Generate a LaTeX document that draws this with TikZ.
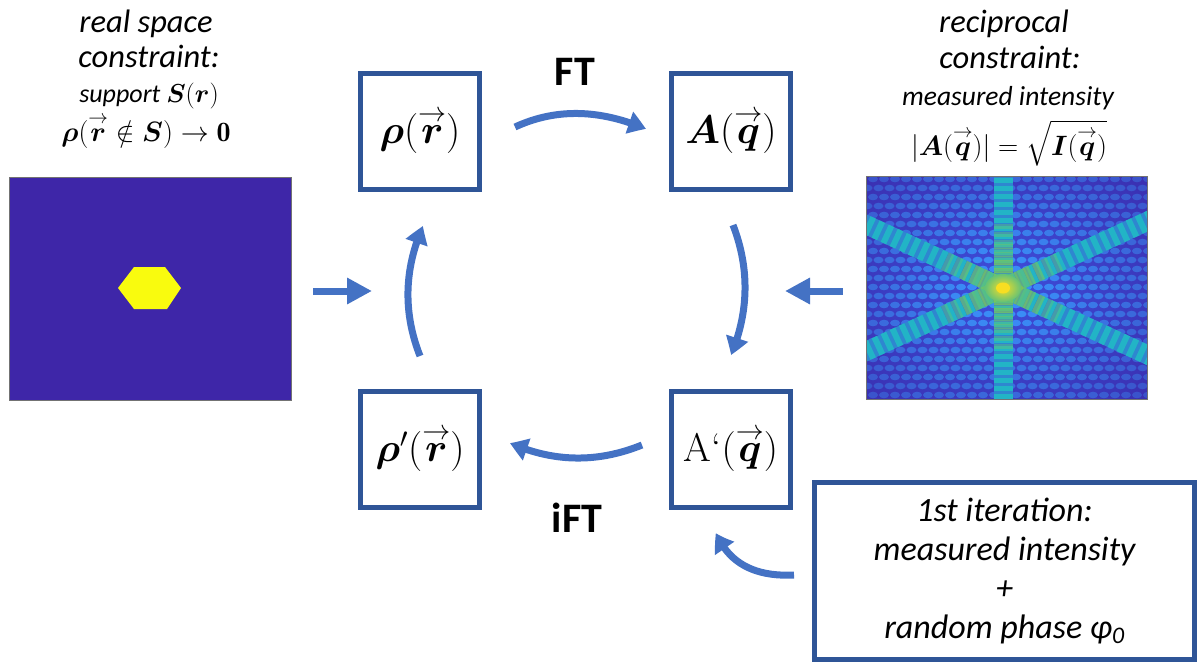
\RequirePackage{fix-cm}
\documentclass[tikz,border=0pt]{standalone}
\usepackage{amsmath}
\usepackage{fontspec}
\usepackage{bm}
\newfontfamily\calib{Carlito}
\usetikzlibrary{arrows.meta,calc,bending}

\definecolor{boxblue}{HTML}{2F5597}
\definecolor{arrowblue}{HTML}{4472C4}
\definecolor{pbase}{HTML}{3E26A8}
\definecolor{phex}{HTML}{F9FB0E}
\definecolor{pdark}{HTML}{3A2DAE}
\definecolor{pmid}{HTML}{3D50DC}
\definecolor{poval}{HTML}{3A8CF6}
\definecolor{pteal}{HTML}{22B4C6}
\definecolor{pgreen}{HTML}{80C855}
\definecolor{pyellow}{HTML}{F8DE22}

% vector arrow set close above a letter
\newcommand{\vecr}[1]{\overset{\rightarrow}{#1}}

\begin{document}
\begin{tikzpicture}[x=1pt,y=-1pt,
  stepbox/.style={draw=boxblue,line width=5pt,minimum width=119pt,minimum height=116pt,inner sep=0pt,
    font=\fontsize{40}{40}\selectfont},
  flow/.style={draw=arrowblue,line width=7pt,-{Triangle[length=18pt,width=22pt,bend]}},
  feed/.style={draw=arrowblue,line width=7pt,-{Triangle[length=25pt,width=25pt]}},
  head/.style={anchor=base,inner sep=0pt,font=\calib\itshape\fontsize{32.5}{38}\selectfont},
  sub/.style={anchor=base,inner sep=0pt,font=\calib\itshape\fontsize{26}{30}\selectfont},
  eqn/.style={anchor=base,inner sep=0pt,font=\fontsize{28}{32}\selectfont},
  opname/.style={anchor=base,inner sep=0pt,font=\calib\bfseries\fontsize{42}{46}\selectfont},
  bandbase/.style={draw=pteal!55!pmid,line width=19pt},
  band/.style={draw=pteal,line width=19pt,dash pattern=on 5pt off 3pt},
  glow/.style={draw=pgreen,line width=19pt,dash pattern=on 5pt off 3pt},
  picframe/.style={draw=black!55,line width=0.8pt,inner sep=0pt}
]
\useasboundingbox (0,0) rectangle (1199,664);

% ---------- real-space support image ----------
\node[picframe,fill=pbase,minimum width=282pt,minimum height=223pt] (supp) at (150,288.5) {};
\fill[phex] (118,288) -- (134,267) -- (165,267) -- (181,288) -- (167,309) -- (134,309) -- cycle;

% ---------- diffraction pattern ----------
\node[picframe,fill=pdark,minimum width=280pt,minimum height=222pt] (diff) at (1007,288) {};
\begin{scope}
  \clip (diff.south west) rectangle (diff.north east);
  \shade[inner color=pmid,outer color=pdark] (1003,288) ellipse (210 and 170);
  \foreach \j in {0,...,25}{
    \foreach \i in {0,...,26}{
      \pgfmathsetmacro\px{862+11*\i+5.5*mod(\j,2)}
      \pgfmathsetmacro\py{179+9*\j}
      \pgfmathsetmacro\rr{sqrt(((\px-1003)/140)^2+((\py-288)/111)^2)}
      \pgfmathsetmacro\pc{max(35,min(100,115-55*\rr))}
      \fill[poval!\pc!pdark] (\px,\py) ellipse (5 and 3.3);
    }
  }
  \draw[bandbase] (1003,170) -- (1003,406);
  \draw[bandbase] (803,195.4) -- (1203,380.6);
  \draw[bandbase] (803,380.6) -- (1203,195.4);
  \draw[band] (1003,170) -- (1003,406);
  \draw[band,dash pattern=on 6pt off 4pt] (803,195.4) -- (1203,380.6);
  \draw[band,dash pattern=on 6pt off 4pt] (803,380.6) -- (1203,195.4);
  \foreach \r/\o in {64/0.3,44/0.35,28/0.45}{
    \draw[glow,opacity=\o] (1003,288-\r) -- (1003,288+\r);
    \draw[glow,opacity=\o,dash pattern=on 6pt off 4pt] ({1003-\r*0.907},{288-\r*0.42}) -- ({1003+\r*0.907},{288+\r*0.42});
    \draw[glow,opacity=\o,dash pattern=on 6pt off 4pt] ({1003-\r*0.907},{288+\r*0.42}) -- ({1003+\r*0.907},{288-\r*0.42});
  }
  \shade[inner color=pyellow,outer color=pgreen!70!pteal] (1003,288) ellipse (18 and 14);
  \fill[pyellow] (1003,288) ellipse (7 and 5.5);
\end{scope}
\draw[picframe] (diff.south west) rectangle (diff.north east);

% ---------- cycle boxes ----------
\node[stepbox] (rho)  at (420,131) {$\bm{\rho}(\vecr{\bm{r}})$};
\node[stepbox] (amp)  at (731,131) {$\bm{A}(\vecr{\bm{q}})$};
\node[stepbox] (rhop) at (420,449) {$\bm{\rho}'(\vecr{\bm{r}})$};
\node[stepbox] (ampp) at (731,449) {A‘$(\vecr{\bm{q}})$};

% ---------- cycle arrows (quadratic arcs written as cubics) ----------
\coordinate (a0) at ($(rho.east)+(33,-4)$);
\coordinate (ac) at ($(rho.east)!0.5!(amp.west)+(0,-32)$);
\coordinate (a1) at ($(amp.west)+(-23,-2)$);
\draw[flow] (a0) .. controls ($(a0)!0.667!(ac)$) and ($(a1)!0.667!(ac)$) .. (a1);

\coordinate (b0) at ($(amp.south)+(2,33.5)$);
\coordinate (bc) at ($(amp.south)!0.5!(ampp.north)+(27,0)$);
\coordinate (b1) at ($(ampp.north)+(0,-33.5)$);
\draw[flow] (b0) .. controls ($(b0)!0.667!(bc)$) and ($(b1)!0.667!(bc)$) .. (b1);

\coordinate (c0) at ($(ampp.west)+(-27,-4)$);
\coordinate (cc) at ($(ampp.west)!0.5!(rhop.east)+(0,23)$);
\coordinate (c1) at ($(rhop.east)+(28,-6)$);
\draw[flow] (c0) .. controls ($(c0)!0.667!(cc)$) and ($(c1)!0.667!(cc)$) .. (c1);

\coordinate (d0) at ($(rhop.north)+(0,-32.5)$);
\coordinate (dc) at ($(rhop.north)!0.5!(rho.south)+(-25.5,1)$);
\coordinate (d1) at ($(rho.south)+(3,34.5)$);
\draw[flow] (d0) .. controls ($(d0)!0.667!(dc)$) and ($(d1)!0.667!(dc)$) .. (d1);

\node[opname] (ft)  at (575,85)  {FT};
\node[opname] (ift) at (577,532) {iFT};

% ---------- constraint inputs ----------
\coordinate (inL) at (372,291);
\coordinate (inR) at (785,291);
\draw[feed] ($(supp.east)+(22,2.5)$) -- (inL);
\draw[feed] ($(diff.west)+(-24,3)$) -- (inR);

\node[head] (rs1) at (146,32)  {real space};
\node[head] (rs2) at (149,67)  {constraint:};
\node[sub]  (rs3) at (149,102) {support $\bm{S}(\bm{r})$};
\node[eqn]  (rs4) at (146,141) {$\bm{\rho}(\vecr{\bm{r}}\notin\bm{S})\rightarrow\mathbf{0}$};

\node[head] (rc1) at (1004,32)  {reciprocal};
\node[head] (rc2) at (1010,68)  {constraint:};
\node[sub,font=\calib\itshape\fontsize{27.5}{30}\selectfont]  (rc3) at (1008,105) {measured intensity};
\node[eqn]  (rc4) at (1009,155) {$|\bm{A}(\vecr{\bm{q}})|=\sqrt{\bm{I}(\vecr{\bm{q}})}$};

% ---------- start values ----------
\node[draw=boxblue,line width=5pt,minimum width=380pt,minimum height=177pt,inner sep=0pt,
      align=center,font=\calib\itshape\fontsize{34}{39}\selectfont] (init) at (1004.5,571)
  {1st iteration:\\measured intensity\\+\\random phase φ\textsubscript{0}};
\coordinate (e0) at ($(init.west)+(-18,4)$);
\coordinate (ec) at (735,578);
\coordinate (e1) at ($(ampp.south)+(-15,23.5)$);
\draw[flow] (e0) .. controls ($(e0)!0.667!(ec)$) and ($(e1)!0.667!(ec)$) .. (e1);
\end{tikzpicture}
\end{document}
